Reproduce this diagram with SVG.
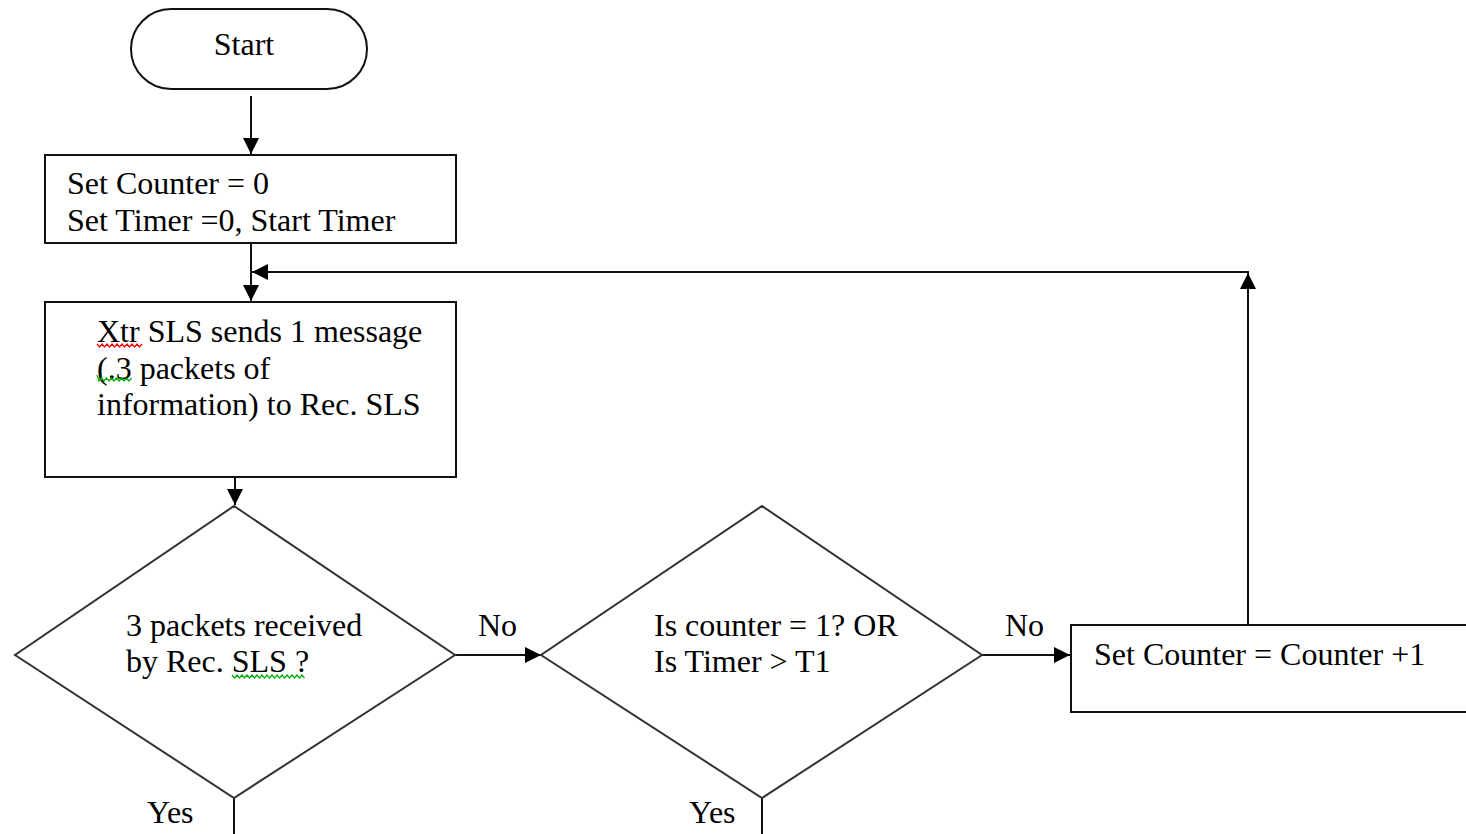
<svg xmlns="http://www.w3.org/2000/svg" width="1466" height="834" viewBox="0 0 1466 834">
<style>
.shape{fill:#fff;stroke:#111;stroke-width:2}
.dia{fill:#fff;stroke:#333;stroke-width:2}
.conn{fill:none;stroke:#111;stroke-width:2}
.t{font-family:"Liberation Serif","Times New Roman",serif;font-size:32px;fill:#000}
.sq{fill:none;stroke-width:1.2}
</style>
<defs>
<marker id="arr" viewBox="0 0 10 10" refX="10" refY="5" markerWidth="18" markerHeight="16" markerUnits="userSpaceOnUse" orient="auto">
<path d="M0,0 L10,5 L0,10 z" fill="#000"/>
</marker>
</defs>
<rect width="1466" height="834" fill="#fff"/>

<g id="connectors">
<path class="conn" d="M251,96 V154" marker-end="url(#arr)"/>
<path class="conn" d="M251,243 V301" marker-end="url(#arr)"/>
<path class="conn" d="M235,477 V505" marker-end="url(#arr)"/>
<path class="conn" d="M455,655 H541" marker-end="url(#arr)"/>
<path class="conn" d="M982,655 H1070" marker-end="url(#arr)"/>
<path class="conn" d="M1248,625 V273" marker-end="url(#arr)"/>
<path class="conn" d="M1249,272 H252" marker-end="url(#arr)"/>
<path class="conn" d="M234,798 V834"/>
<path class="conn" d="M762,798 V834"/>
<text class="t" x="478" y="636">No</text>
<text class="t" x="1005" y="636">No</text>
<text class="t" x="147" y="823">Yes</text>
<text class="t" x="689" y="823">Yes</text>
</g>

<g id="start">
<rect class="shape" x="131" y="9" width="236" height="80" rx="40" ry="40"/>
<text class="t" x="244" y="55" text-anchor="middle">Start</text>
</g>

<g id="init">
<rect class="shape" x="45" y="155" width="411" height="88"/>
<text class="t" x="67" y="194">Set Counter = 0</text>
<text class="t" x="67" y="231">Set Timer =0, Start Timer</text>
</g>

<g id="send">
<rect class="shape" x="45" y="302" width="411" height="175"/>
<text class="t" x="97" y="342">Xtr SLS sends 1 message</text>
<text class="t" x="97" y="379">(.3 packets of</text>
<text class="t" x="97" y="415">information) to Rec. SLS</text>
<polyline class="sq" stroke="#e00" points="97,344 99.5,347 102,344 104.5,347 107,344 109.5,347 112,344 114.5,347 117,344 119.5,347 122,344 124.5,347 127,344 129.5,347 132,344 134.5,347 137,344 139.5,347 142,344"/>
<polyline class="sq" stroke="#0a0" points="97,375 99,381 101.5,378 104,381 106.5,378 109,381 111.5,378 114,381 116.5,378 119,381 121.5,378 124,381 126.5,378 129,381 131.5,378"/>
</g>

<g id="check-received">
<polygon class="dia" points="234,506 455,655 234,798 15,655"/>
<text class="t" x="126" y="636">3 packets received</text>
<text class="t" x="126" y="672">by Rec. SLS ?</text>
<polyline class="sq" stroke="#0a0" points="232,675 234.5,678 237,675 239.5,678 242,675 244.5,678 247,675 249.5,678 252,675 254.5,678 257,675 259.5,678 262,675 264.5,678 267,675 269.5,678 272,675 274.5,678 277,675 279.5,678 282,675 284.5,678 287,675 289.5,678 292,675 294.5,678 297,675 299.5,678 302,675 304.5,678"/>
</g>

<g id="check-counter">
<polygon class="dia" points="762,506 982,655 762,798 541,655"/>
<text class="t" x="654" y="636">Is counter = 1? OR</text>
<text class="t" x="654" y="672">Is Timer &gt; T1</text>
</g>

<g id="increment">
<rect class="shape" x="1071" y="625" width="420" height="87"/>
<text class="t" x="1094" y="665">Set Counter = Counter +1</text>
</g>
</svg>
